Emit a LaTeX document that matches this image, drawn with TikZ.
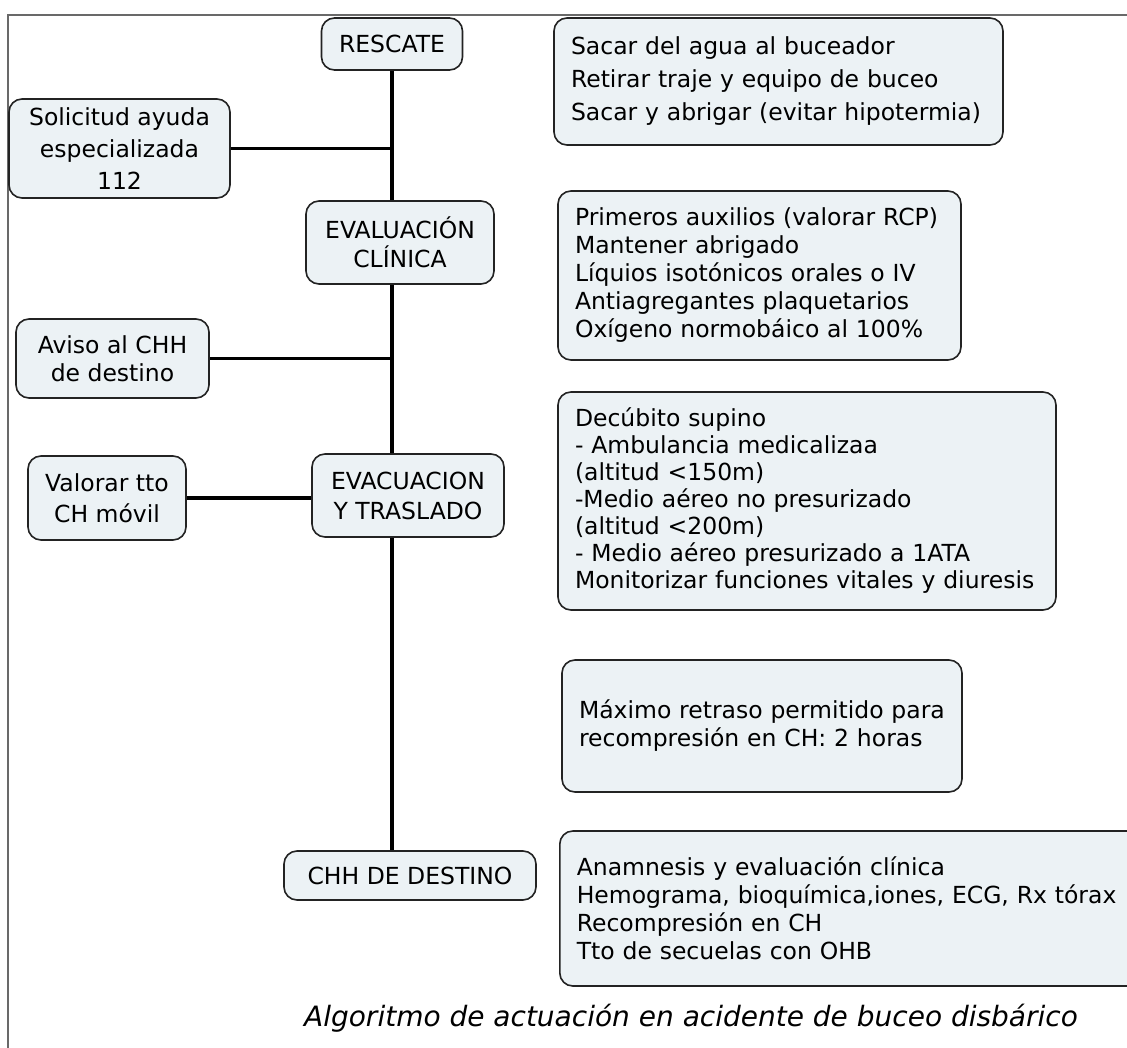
\documentclass[tikz,border=0pt]{standalone}
\usepackage{fontspec}
\setmainfont{DejaVu Sans}
\definecolor{boxfill}{RGB}{236,242,245}
\definecolor{boxline}{RGB}{35,35,35}
\definecolor{framegray}{RGB}{105,105,105}
\tikzset{
  box/.style={draw=boxline, fill=boxfill, line width=1.6pt, rounded corners=13pt,
    align=center, inner sep=0pt, font=\fontsize{23.5}{29}\selectfont},
  notebox/.style={box, align=left, inner xsep=17pt, font=\fontsize{23.5}{28}\selectfont},
  link/.style={line width=3.2pt, black}
}
\begin{document}
\begin{tikzpicture}[x=1pt,y=-1pt]
\useasboundingbox (0,0) rectangle (1127,1048);
\draw[framegray, line width=1.2pt] (8,1050) -- (8,15) -- (1130,15);
\coordinate (trunk) at (392,0);
\node[box, minimum width=141pt, minimum height=52pt] (rescate) at (392,44) {RESCATE};
\node[box, minimum width=221pt, minimum height=99pt, font=\fontsize{23.5}{32}\selectfont] (solicitud) at (119.5,148.5) {Solicitud ayuda\\especializada\\112};
\node[box, minimum width=188pt, minimum height=83pt] (evaluacion) at (400,242.5) {EVALUACIÓN\\CLÍNICA};
\node[box, minimum width=193pt, minimum height=79pt, font=\fontsize{23.5}{28}\selectfont] (aviso) at (112.5,358.5) {Aviso al CHH\\de destino};
\node[box, minimum width=192pt, minimum height=83pt, font=\fontsize{23.5}{30}\selectfont] (evacuacion) at (408,495.5) {EVACUACION\\Y TRASLADO};
\node[box, minimum width=158pt, minimum height=84pt, font=\fontsize{23.5}{31}\selectfont] (valorar) at (107,498) {Valorar tto\\CH móvil};
\node[box, minimum width=252pt, minimum height=49pt] (chh) at (410,875.5) {CHH DE DESTINO};
\node[notebox, text width=415pt, minimum height=127pt, font=\fontsize{23.5}{33}\selectfont] (sacar) at (778.5,81.5) {Sacar del agua al buceador\\Retirar traje y equipo de buceo\\Sacar y abrigar (evitar hipotermia)};
\node[notebox, text width=369pt, minimum height=169pt] (primeros) at (759.5,275.5) {Primeros auxilios (valorar RCP)\\Mantener abrigado\\Líquios isotónicos orales o IV\\Antiagregantes plaquetarios\\Oxígeno normobáico al 100\%};
\node[notebox, text width=464pt, minimum height=218pt, font=\fontsize{23.5}{27}\selectfont] (decubito) at (807,501) {Decúbito supino\\- Ambulancia medicalizaa\\(altitud <150m)\\-Medio aéreo no presurizado\\(altitud <200m)\\- Medio aéreo presurizado a 1ATA\\Monitorizar funciones vitales y diuresis};
\node[notebox, text width=366pt, minimum height=132pt] (maximo) at (762,726) {Máximo retraso permitido para\\recompresión en CH: 2 horas};
\node[notebox, text width=566pt, minimum height=155pt, anchor=west] (anamnesis) at (559,908.5) {Anamnesis y evaluación clínica\\Hemograma, bioquímica,iones, ECG, Rx tórax\\Recompresión en CH\\Tto de secuelas con OHB};
\node[font=\fontsize{28}{34}\selectfont\itshape] (caption) at (691,1018) {Algoritmo de actuación en acidente de buceo disbárico};
\draw[link] (rescate.south) -- (trunk |- evaluacion.north);
\draw[link] (solicitud.east) -- (solicitud.east -| trunk);
\draw[link] (trunk |- evaluacion.south) -- (trunk |- evacuacion.north);
\draw[link] (aviso.east) -- (aviso.east -| trunk);
\draw[link] (valorar.east) -- (valorar.east -| evacuacion.west);
\draw[link] (trunk |- evacuacion.south) -- (trunk |- chh.north);
\end{tikzpicture}
\end{document}
